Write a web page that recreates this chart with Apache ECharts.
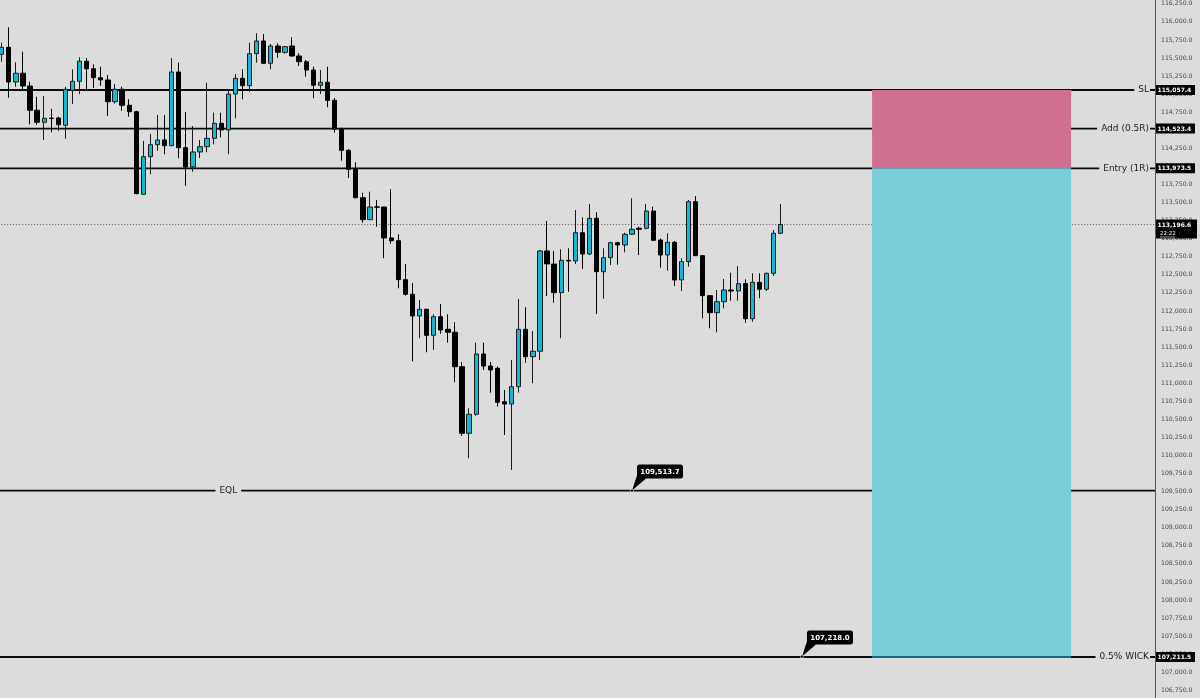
<!DOCTYPE html>
<html><head><meta charset="utf-8">
<script src="https://cdn.jsdelivr.net/npm/echarts@6/dist/echarts.min.js"></script>
<style>html,body{margin:0;padding:0;background:#dcdcdc;overflow:hidden}#c{width:1200px;height:698px}</style>
</head><body><div id="c"></div>
<script>
// ---- data ----
const opens  = [115551,115648,115168,115289,115113,114777,114611,114668,114670,114569,115053,115178,115455,115352,115228,115196,114896,115067,114846,114757,113614,114135,114301,114366,114287,115307,114259,113992,114200,114273,114389,114597,114504,115002,115219,115117,115560,115736,115427,115666,115579,115666,115528,115449,115334,115123,115164,114915,114514,114223,113960,113567,113263,113440,113438,113010,112972,112433,112230,111930,112023,111663,111920,111746,111705,111229,110307,110570,111404,111238,111206,110744,110712,110952,111746,111367,111442,112830,112650,112253,112701,112691,113083,112788,113282,112543,112737,112944,112913,113061,113144,113144,113383,112982,112774,112950,112428,112682,113512,112765,112211,111976,112128,112290,112276,112377,111893,112396,112300,112521,113075];
const closes = [115648,115168,115289,115113,114777,114611,114666,114664,114577,115067,115178,115455,115352,115228,115196,114896,115067,114846,114757,113623,114135,114301,114366,114287,115307,114259,113992,114200,114273,114389,114597,114504,115002,115219,115117,115560,115736,115427,115666,115579,115657,115528,115449,115334,115123,115164,114915,114514,114223,113960,113567,113263,113438,113436,113010,112972,112433,112230,111930,112023,111663,111920,111736,111705,111229,110307,110570,111404,111238,111183,110736,110712,110952,111746,111367,111442,112830,112650,112253,112701,112691,113083,112788,113282,112543,112737,112944,112913,113061,113130,113130,113383,112978,112774,112950,112428,112682,113512,112765,112211,111976,112128,112290,112276,112377,111893,112396,112300,112521,113075,113196.6];
const lows   = [115449,114951,115103,115071,114583,114577,114366,114472,114494,114384,114864,114998,115044,115085,115117,114698,114868,114771,114688,113614,113610,113891,114218,114168,114280,114112,113733,113927,114117,114196,114306,114403,114168,114666,114929,115034,115435,115420,115344,115504,115556,115518,115390,115242,114943,115002,114818,114467,114079,113840,113560,113221,113258,113166,112729,112931,112313,112211,111303,111622,111428,111460,111685,111561,111013,110270,109961,110550,111183,110869,110675,110283,109799,110869,111284,110999,111321,112207,112114,111622,112266,112650,112581,112774,111958,112170,112636,112640,112812,113051,112774,113130,112968,112599,112557,112345,112276,112612,112760,111898,111760,111705,112037,112142,112142,111837,111851,112175,112276,112484,113065];
const highs  = [115712,115925,115441,115588,115172,114965,114975,114799,114688,115103,115344,115510,115500,115413,115380,115265,115141,115103,114929,114771,114352,114449,114712,114712,115500,115435,114753,114559,114366,115159,114744,114744,115044,115279,115344,115712,115842,115832,115694,115704,115666,115787,115565,115473,115380,115334,115380,114943,114536,114241,114057,113636,113650,113535,113440,113683,113061,112650,112387,112152,112030,111954,112096,111954,111843,111294,110653,111561,111561,111294,111229,110906,111321,112165,112051,111723,112844,113245,112830,112853,112867,113397,113296,113480,113365,112867,112958,112958,113083,113559,113166,113480,113443,113005,113075,112968,112729,113535,113591,112774,112221,112290,112442,112529,112622,112438,112521,112521,112529,113120,113480];

const slotCount = 163;                  // bar slots across the chart width
const categories = Array.from({length: slotCount}, (_, i) => String(i + 1));

const levelPrices = [115057.4, 114523.4, 113973.5, 107211.5];
const levelNames  = ['SL', 'Add (0.5R)', 'Entry (1R)', '0.5% WICK'];
const eqlPrice = 109513.7;
const eqlName = 'EQL';
const eqlLabelSlot = 32.5;
const lastPrice = 113196.6;
const countdown = '22:22';
const riskZone   = [113973.5, 115057.4];
const rewardZone = [107211.5, 113973.5];
const zoneSlots  = [123.4, 151.5];
const calloutSlots  = [89.5, 113.5];
const calloutPrices = [109513.7, 107218.0];
const yMin = 106500, yMax = 116500, yStep = 250;

// ---- layout ----
const BAR = 7.082, LEFT = -1.84;
const PLOT_W = BAR * slotCount;
const RIGHT = 1200 - LEFT - PLOT_W;
const AXIS_OFFSET = RIGHT - 45;            // axis line at x=1155
const PX_PER = 13.838;                     // price units per pixel
const TOP = 90 - (yMax - 115057.4) / PX_PER;
const BOTTOM = 698 - (90 + (115057.4 - yMin) / PX_PER);
const BG = '#dcdcdc';
const FONT = 'DejaVu Sans';

function fmt(v){ return Number(v).toLocaleString('en-US',{minimumFractionDigits:1, maximumFractionDigits:1}); }

const candles = opens.map((o, i) => [o, closes[i], lows[i], highs[i]]);

const chart = echarts.init(document.getElementById('c'), null, {renderer:'canvas'});

function axisX(api, p){ return api.coord([slotCount, p])[0] + AXIS_OFFSET; }

const option = {
  backgroundColor: BG,
  animation: false,
  grid: {left: LEFT, right: RIGHT, top: TOP, bottom: BOTTOM, containLabel: false, outerBoundsMode: 'none'},
  xAxis: [
    {type: 'category', data: categories, show: false, boundaryGap: true},
    {type: 'value', min: 0, max: slotCount, show: false}
  ],
  yAxis: {
    type: 'value', position: 'right', min: yMin, max: yMax, interval: yStep, offset: AXIS_OFFSET,
    axisLine: {show: true, onZero: false, lineStyle: {color: '#555', width: 1}},
    axisTick: {show: false}, splitLine: {show: false},
    axisLabel: {margin: 6, fontSize: 6.2, color: '#444', fontFamily: FONT, formatter: v => fmt(v)}
  },
  series: [
    // current price dotted line
    {
      type: 'custom', xAxisIndex: 1, yAxisIndex: 0, z: 2, silent: true,
      data: [[0, lastPrice]],
      renderItem(params, api){
        const p = api.value(1);
        const [x0, y] = api.coord([0, p]);
        return {type: 'line', shape: {x1: x0, y1: y, x2: axisX(api, p), y2: y},
          style: {stroke: '#555', lineWidth: 1, lineDash: [1, 2]}};
      }
    },
    // level lines with labels
    {
      type: 'custom', xAxisIndex: 1, yAxisIndex: 0, z: 2, silent: true,
      data: levelPrices.map((p, i) => [0, p, i]),
      renderItem(params, api){
        const p = api.value(1), i = api.value(2);
        const [x0, y] = api.coord([0, p]);
        const ax = axisX(api, p);
        return {type: 'group', children: [
          {type: 'line', shape: {x1: x0, y1: y, x2: ax, y2: y}, style: {stroke: '#0a0a0a', lineWidth: 1.8}},
          {type: 'text', x: ax - 5, y: y, style: {text: levelNames[i], align: 'right', verticalAlign: 'middle',
            fill: '#1a1a1a', fontSize: 9, fontFamily: FONT, backgroundColor: BG, padding: [1, 1, 1, 4]}}
        ]};
      }
    },
    // EQL line
    {
      type: 'custom', xAxisIndex: 1, yAxisIndex: 0, z: 2, silent: true,
      data: [[eqlLabelSlot, eqlPrice]],
      renderItem(params, api){
        const p = api.value(1);
        const [x0, y] = api.coord([0, p]);
        const lx = api.coord([api.value(0), p])[0];
        return {type: 'group', children: [
          {type: 'line', shape: {x1: x0, y1: y, x2: axisX(api, p), y2: y}, style: {stroke: '#0a0a0a', lineWidth: 1.8}},
          {type: 'text', x: lx, y: y, style: {text: eqlName, align: 'center', verticalAlign: 'middle',
            fill: '#1a1a1a', fontSize: 9, fontFamily: FONT, backgroundColor: BG, padding: [1, 4, 1, 4]}}
        ]};
      }
    },
    // risk / reward zones
    {
      type: 'custom', xAxisIndex: 1, yAxisIndex: 0, z: 3, silent: true,
      data: [[zoneSlots[0], riskZone[0], zoneSlots[1], riskZone[1], 0],
             [zoneSlots[0], rewardZone[0], zoneSlots[1], rewardZone[1], 1]],
      renderItem(params, api){
        const a = api.coord([api.value(0), api.value(3)]);
        const b = api.coord([api.value(2), api.value(1)]);
        const kind = api.value(4);
        const children = [{type: 'rect', shape: {x: a[0], y: a[1], width: b[0] - a[0], height: b[1] - a[1]},
          style: {fill: kind === 0 ? '#d0708f' : '#79cdd8'}}];
        if (kind === 1) children.push({type: 'line', shape: {x1: a[0], y1: b[1], x2: b[0], y2: b[1]},
          style: {stroke: '#0f6c78', lineWidth: 1.8}});
        return {type: 'group', children};
      }
    },
    // candles
    {
      type: 'candlestick', xAxisIndex: 0, yAxisIndex: 0, z: 4, data: candles, barWidth: 4.8,
      itemStyle: {color: '#17b6d3', color0: '#000000', borderColor: '#1a1a1a', borderColor0: '#000000',
        borderColorDoji: '#111', borderWidth: 1}
    },
    // callouts
    {
      type: 'custom', xAxisIndex: 1, yAxisIndex: 0, z: 5, silent: true,
      data: calloutSlots.map((s, i) => [s, calloutPrices[i]]),
      renderItem(params, api){
        const [cx, cy] = api.coord([api.value(0), api.value(1)]);
        const bx = cx + 5, bw = 46, bh = 14, by = cy - 26;
        return {type: 'group', children: [
          {type: 'polygon', shape: {points: [[cx, cy], [bx, by + bh - 3], [bx + 9, by + bh]]}, style: {fill: '#000'}},
          {type: 'rect', shape: {x: bx, y: by, width: bw, height: bh, r: 2.5}, style: {fill: '#000'}},
          {type: 'text', x: bx + bw / 2, y: by + bh / 2 + 0.5, style: {text: fmt(api.value(1)), align: 'center',
            verticalAlign: 'middle', fill: '#fff', fontSize: 7, fontWeight: 'bold', fontFamily: FONT}},
          {type: 'circle', shape: {cx: cx, cy: cy, r: 1.6}, style: {fill: '#000', stroke: '#fff', lineWidth: 0.6}}
        ]};
      }
    },
    // right-axis price tags
    {
      type: 'custom', xAxisIndex: 1, yAxisIndex: 0, z: 6, silent: true,
      data: levelPrices.map(p => [0, p]),
      renderItem(params, api){
        const p = api.value(1);
        const y = api.coord([0, p])[1];
        const ax = axisX(api, p);
        return {type: 'group', children: [
          {type: 'rect', shape: {x: ax + 1, y: y - 5, width: 39, height: 10}, style: {fill: '#000'}},
          {type: 'text', x: ax + 2.5, y: y + 0.5, style: {text: fmt(p), fill: '#fff', fontSize: 6,
            fontWeight: 'bold', fontFamily: FONT, verticalAlign: 'middle', align: 'left'}}
        ]};
      }
    },
    // current price tag
    {
      type: 'custom', xAxisIndex: 1, yAxisIndex: 0, z: 6, silent: true,
      data: [[0, lastPrice]],
      renderItem(params, api){
        const p = api.value(1);
        const y = api.coord([0, p])[1];
        const ax = axisX(api, p);
        return {type: 'group', children: [
          {type: 'rect', shape: {x: ax + 1, y: y - 5, width: 41, height: 19}, style: {fill: '#000'}},
          {type: 'text', x: ax + 2.5, y: y + 0.5, style: {text: fmt(p), fill: '#fff', fontSize: 6,
            fontWeight: 'bold', fontFamily: FONT, verticalAlign: 'middle', align: 'left'}},
          {type: 'text', x: ax + 5, y: y + 9, style: {text: countdown, fill: '#fff', fontSize: 5.5,
            fontFamily: FONT, verticalAlign: 'middle', align: 'left'}},
          {type: 'line', shape: {x1: ax + 5, y1: y + 12.5, x2: ax + 20, y2: y + 12.5}, style: {stroke: '#fff', lineWidth: 0.6}}
        ]};
      }
    }
  ]
};
chart.setOption(option);
</script>
</body></html>
